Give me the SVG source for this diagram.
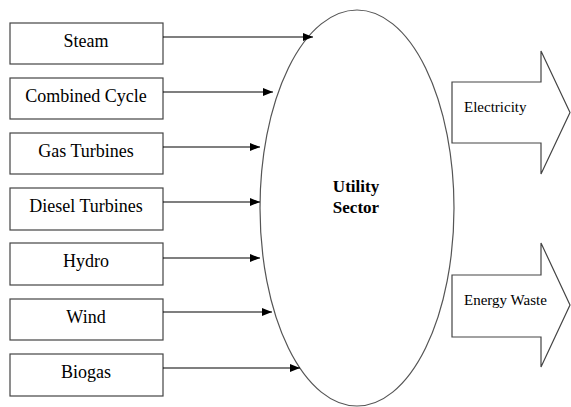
<svg xmlns="http://www.w3.org/2000/svg" width="571" height="407" viewBox="0 0 571 407" font-family="Liberation Serif, Times New Roman, serif">
<defs>
<style>
.box{fill:#fff;stroke:#444;stroke-width:1.2}
.lbl{font-size:18px;fill:#000;text-anchor:middle}
.conn{stroke:#000;stroke-width:1.2;fill:none;marker-end:url(#ah)}
.big{fill:#fff;stroke:#444;stroke-width:1.2}
.out{font-size:15px;fill:#000}
</style>
<marker id="ah" viewBox="0 0 10 8" refX="10" refY="4" markerWidth="10" markerHeight="8" markerUnits="userSpaceOnUse" orient="auto">
<path d="M0,0 L10,4 L0,8 Z" fill="#000"/>
</marker>
</defs>
<rect width="571" height="407" fill="#fff"/>
<g id="sector">
<ellipse cx="357" cy="208" rx="97" ry="198" fill="#fff" stroke="#555" stroke-width="1.2"/>
<text x="356" y="192" font-size="17" font-weight="bold" text-anchor="middle">Utility</text>
<text x="356" y="213" font-size="17" font-weight="bold" text-anchor="middle">Sector</text>
</g>
<g id="steam"><rect class="box" x="10" y="23" width="153" height="41"/><text class="lbl" x="86" y="47">Steam</text></g>
<g id="combined"><rect class="box" x="10" y="78" width="153" height="41"/><text class="lbl" x="86" y="102">Combined Cycle</text></g>
<g id="gas"><rect class="box" x="10" y="133" width="153" height="41"/><text class="lbl" x="86" y="157">Gas Turbines</text></g>
<g id="diesel"><rect class="box" x="10" y="188" width="153" height="42"/><text class="lbl" x="86" y="212">Diesel Turbines</text></g>
<g id="hydro"><rect class="box" x="10" y="243" width="153" height="42"/><text class="lbl" x="86" y="267">Hydro</text></g>
<g id="wind"><rect class="box" x="10" y="299" width="153" height="41"/><text class="lbl" x="86" y="323">Wind</text></g>
<g id="biogas"><rect class="box" x="10" y="354" width="153" height="42"/><text class="lbl" x="86" y="378">Biogas</text></g>
<g id="electricity">
<polygon class="big" points="452,82 541,82 541,51 570,112.5 541,174 541,143 452,143"/>
<text class="out" x="464" y="112">Electricity</text>
</g>
<g id="waste">
<polygon class="big" points="452,275 541,275 541,243 570,305 541,367 541,337 452,337"/>
<text class="out" x="464" y="305">Energy Waste</text>
</g>
<g id="connectors">
<line class="conn" x1="163" y1="37" x2="313" y2="37"/>
<line class="conn" x1="163" y1="92" x2="273" y2="92"/>
<line class="conn" x1="163" y1="147" x2="260" y2="147"/>
<line class="conn" x1="163" y1="202" x2="260" y2="202"/>
<line class="conn" x1="163" y1="258" x2="260" y2="258"/>
<line class="conn" x1="163" y1="312" x2="272" y2="312"/>
<line class="conn" x1="163" y1="368" x2="300" y2="368"/>
</g>
</svg>
